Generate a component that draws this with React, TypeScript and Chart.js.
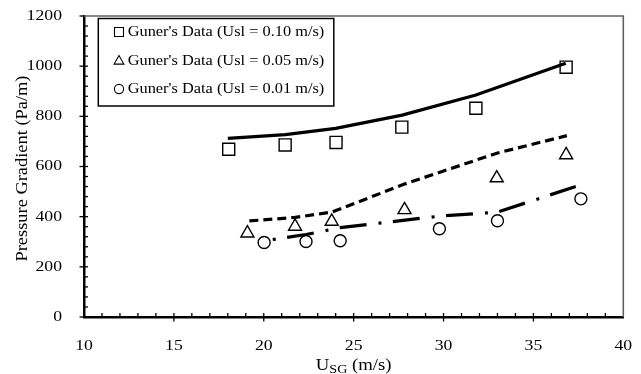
import React, { useEffect, useRef } from 'react';
import { Chart, registerables } from 'chart.js';

Chart.register(...registerables);

const SERIF = "'Liberation Serif', 'Times New Roman', Times, serif";

// Axis ticks
const xTickValues = [10, 15, 20, 25, 30, 35, 40];
const yTickValues = [0, 200, 400, 600, 800, 1000, 1200];
const xMinorStep = 1;
const yMinorStep = 40;

// Titles & legend labels
const xTitleMain = 'U';
const xTitleSub = 'SG';
const xTitleRest = ' (m/s)';
const yTitle = 'Pressure Gradient (Pa/m)';
const seriesLabels = [
  "Guner's Data (Usl = 0.10 m/s)",
  "Guner's Data (Usl = 0.05 m/s)",
  "Guner's Data (Usl = 0.01 m/s)",
];

// Experimental data (Guner)
const usgData010 = [18.05, 21.19, 24.02, 27.68, 31.8, 36.82];
const dpData010 = [669, 686, 696, 757, 832, 996];
const usgData005 = [19.09, 21.74, 23.78, 27.83, 32.96, 36.82];
const dpData005 = [334, 361, 381, 427, 554, 646];
const usgData001 = [20.02, 22.35, 24.25, 29.77, 33.0, 37.64];
const dpData001 = [297, 301, 304, 352, 384, 471];

// Model predictions
const usgModel010 = [18.0, 21.2, 24.0, 27.7, 31.8, 36.8];
const dpModel010 = [712, 727, 752, 805, 885, 1012];
const usgModel005 = [19.2, 21.74, 23.78, 27.83, 32.96, 36.86];
const dpModel005 = [383, 397, 418, 530, 653, 723];
const usgModel001 = [20.5, 22.35, 24.25, 29.77, 33.0, 37.64];
const dpModel001 = [309, 329, 356, 402, 418, 527];

const pts = (xs: number[], ys: number[]) => xs.map((v, i) => ({ x: v, y: ys[i] }));

const TICK_STRETCH = 1.18;
const LEGEND_STRETCH = 1.09;
const TITLE_STRETCH = 1.15;

const protoFillText = CanvasRenderingContext2D.prototype.fillText;
function stretchedText(ctx: CanvasRenderingContext2D, text: string, x: number, y: number, sx: number) {
  ctx.save();
  ctx.translate(x, y);
  ctx.scale(sx, 1);
  protoFillText.call(ctx, text, 0, 0);
  ctx.restore();
}

const decorPlugin = {
  id: 'decor',
  beforeDraw(chart: any) {
    const ctx = chart.ctx;
    ctx.fillText = function (text: string, x: number, y: number) {
      stretchedText(this, text, x, y, TICK_STRETCH);
    };
  },
  beforeDatasetsDraw(chart: any) {
    delete chart.ctx.fillText;
  },
  afterDraw(chart: any) {
    const ctx: CanvasRenderingContext2D = chart.ctx;
    const ca = chart.chartArea;
    const xs = chart.scales.x;
    const ys = chart.scales.y;
    ctx.save();

    // top & right frame
    ctx.strokeStyle = '#606060';
    ctx.lineWidth = 1.6;
    ctx.beginPath();
    ctx.moveTo(ca.left, ca.top);
    ctx.lineTo(ca.right, ca.top);
    ctx.lineTo(ca.right, ca.bottom);
    ctx.stroke();

    // tick marks
    ctx.strokeStyle = '#000';
    ctx.lineWidth = 1.3;
    for (let v = xs.min + xMinorStep; v < xs.max; v += xMinorStep) {
      const px = xs.getPixelForValue(v);
      const major = xTickValues.includes(v);
      ctx.beginPath();
      ctx.moveTo(px, ca.bottom - 4);
      ctx.lineTo(px, ca.bottom + (major ? 4.5 : 0));
      ctx.stroke();
    }
    for (let v = ys.min; v <= ys.max; v += yMinorStep) {
      const py = ys.getPixelForValue(v);
      const major = yTickValues.includes(v);
      ctx.beginPath();
      ctx.moveTo(ca.left + (v === ys.min || v === ys.max ? 0 : 4), py);
      ctx.lineTo(ca.left - (major ? 4.5 : 0), py);
      ctx.stroke();
    }

    // legend
    const lx = 98.3, ly = 18.5, lw = 235.5, lh = 87.5;
    ctx.fillStyle = '#fff';
    ctx.fillRect(lx, ly, lw, lh);
    ctx.strokeStyle = '#000';
    ctx.lineWidth = 1.5;
    ctx.strokeRect(lx, ly, lw, lh);
    const rowY = [32, 60.5, 89];
    const mx = 119;
    ctx.lineWidth = 1.1;
    seriesLabels.forEach((label, i) => {
      const cy = rowY[i];
      ctx.beginPath();
      if (i === 0) {
        ctx.rect(mx - 4.5, cy - 4.5, 9, 9);
      } else if (i === 1) {
        ctx.moveTo(mx, cy - 5);
        ctx.lineTo(mx - 4.9, cy + 3.6);
        ctx.lineTo(mx + 4.9, cy + 3.6);
        ctx.closePath();
      } else {
        ctx.arc(mx, cy, 4.6, 0, Math.PI * 2);
      }
      ctx.stroke();
      ctx.fillStyle = '#000';
      ctx.font = `15px ${SERIF}`;
      ctx.textAlign = 'left';
      ctx.textBaseline = 'middle';
      stretchedText(ctx, label, 127.7, cy + 0.5, LEGEND_STRETCH);
    });

    // y title
    ctx.save();
    ctx.translate(23, 168.5);
    ctx.rotate(-Math.PI / 2);
    ctx.font = `16px ${SERIF}`;
    ctx.textAlign = 'center';
    ctx.textBaseline = 'middle';
    ctx.fillStyle = '#000';
    stretchedText(ctx, yTitle, 0, 0, TITLE_STRETCH);
    ctx.restore();

    // x title with subscript
    const s = 1.17;
    ctx.textAlign = 'left';
    ctx.textBaseline = 'alphabetic';
    ctx.fillStyle = '#000';
    ctx.font = `16px ${SERIF}`;
    const wU = ctx.measureText(xTitleMain).width * s;
    const wRest = ctx.measureText(xTitleRest).width * s;
    ctx.font = `12px ${SERIF}`;
    const wSub = ctx.measureText(xTitleSub).width * s;
    const total = wU + wSub + wRest;
    let cx = (ca.left + ca.right) / 2 - total / 2;
    ctx.font = `16px ${SERIF}`;
    stretchedText(ctx, xTitleMain, cx, 370, s);
    cx += wU;
    ctx.font = `12px ${SERIF}`;
    stretchedText(ctx, xTitleSub, cx, 373, s);
    cx += wSub;
    ctx.font = `16px ${SERIF}`;
    stretchedText(ctx, xTitleRest, cx, 370, s);

    ctx.restore();
  },
};

export default function App() {
  const ref = useRef<HTMLCanvasElement | null>(null);

  useEffect(() => {
    document.body.style.margin = '0';
    document.body.style.overflow = 'hidden';
    const canvas = ref.current;
    if (!canvas) return;

    const marker = {
      showLine: false,
      borderColor: '#000',
      backgroundColor: 'rgba(0,0,0,0)',
      pointBorderWidth: 1.4,
      borderWidth: 1.4,
    };
    const line = {
      showLine: true,
      pointRadius: 0,
      borderColor: '#000',
      backgroundColor: '#000',
      borderWidth: 3.2,
      borderCapStyle: 'butt' as const,
      tension: 0,
      fill: false,
    };

    const chart = new Chart(canvas, {
      type: 'scatter',
      data: {
        datasets: [
          { ...marker, label: seriesLabels[0], data: pts(usgData010, dpData010), pointStyle: 'rect', pointRadius: 8.5 },
          { ...marker, label: seriesLabels[1], data: pts(usgData005, dpData005), pointStyle: 'triangle', pointRadius: 7.5 },
          { ...marker, label: seriesLabels[2], data: pts(usgData001, dpData001), pointStyle: 'circle', pointRadius: 6 },
          { ...line, label: 'Model 0.10', data: pts(usgModel010, dpModel010) },
          { ...line, label: 'Model 0.05', data: pts(usgModel005, dpModel005), borderDash: [9, 5] },
          { ...line, label: 'Model 0.01', data: pts(usgModel001, dpModel001), borderDash: [3, 11.5, 27, 12] },
        ] as any,
      },
      options: {
        animation: false,
        responsive: true,
        maintainAspectRatio: false,
        devicePixelRatio: 1,
        layout: { padding: { top: 16, right: 17.7, left: 0, bottom: 0 } },
        plugins: {
          legend: { display: false },
          tooltip: { enabled: false },
        },
        scales: {
          x: {
            type: 'linear',
            min: 10,
            max: 40,
            afterBuildTicks: (s: any) => {
              s.ticks = xTickValues.map((v) => ({ value: v }));
            },
            afterFit: (s: any) => {
              s.height = 57;
              s.paddingLeft = 0;
              s.paddingRight = 0;
              s.paddingTop = 0;
              s.paddingBottom = 0;
            },
            grid: { display: false },
            border: { display: true, color: '#000', width: 2.5 },
            ticks: {
              color: '#000',
              padding: 12,
              maxRotation: 0,
              font: { family: SERIF, size: 15 },
              callback: (v: any) => String(v),
            },
          },
          y: {
            type: 'linear',
            min: 0,
            max: 1200,
            afterBuildTicks: (s: any) => {
              s.ticks = yTickValues.map((v) => ({ value: v }));
            },
            afterFit: (s: any) => {
              s.width = 84;
              s.paddingLeft = 0;
              s.paddingRight = 0;
              s.paddingTop = 0;
              s.paddingBottom = 0;
            },
            grid: { display: false },
            border: { display: true, color: '#000', width: 2.5 },
            ticks: {
              color: '#000',
              padding: 14,
              font: { family: SERIF, size: 15 },
              callback: (v: any) => String(v),
            },
          },
        },
      } as any,
      plugins: [decorPlugin],
    });

    return () => {
      chart.destroy();
    };
  }, []);

  return (
    <div style={{ width: 641, height: 374, position: 'relative' }}>
      <canvas ref={ref} />
    </div>
  );
}
